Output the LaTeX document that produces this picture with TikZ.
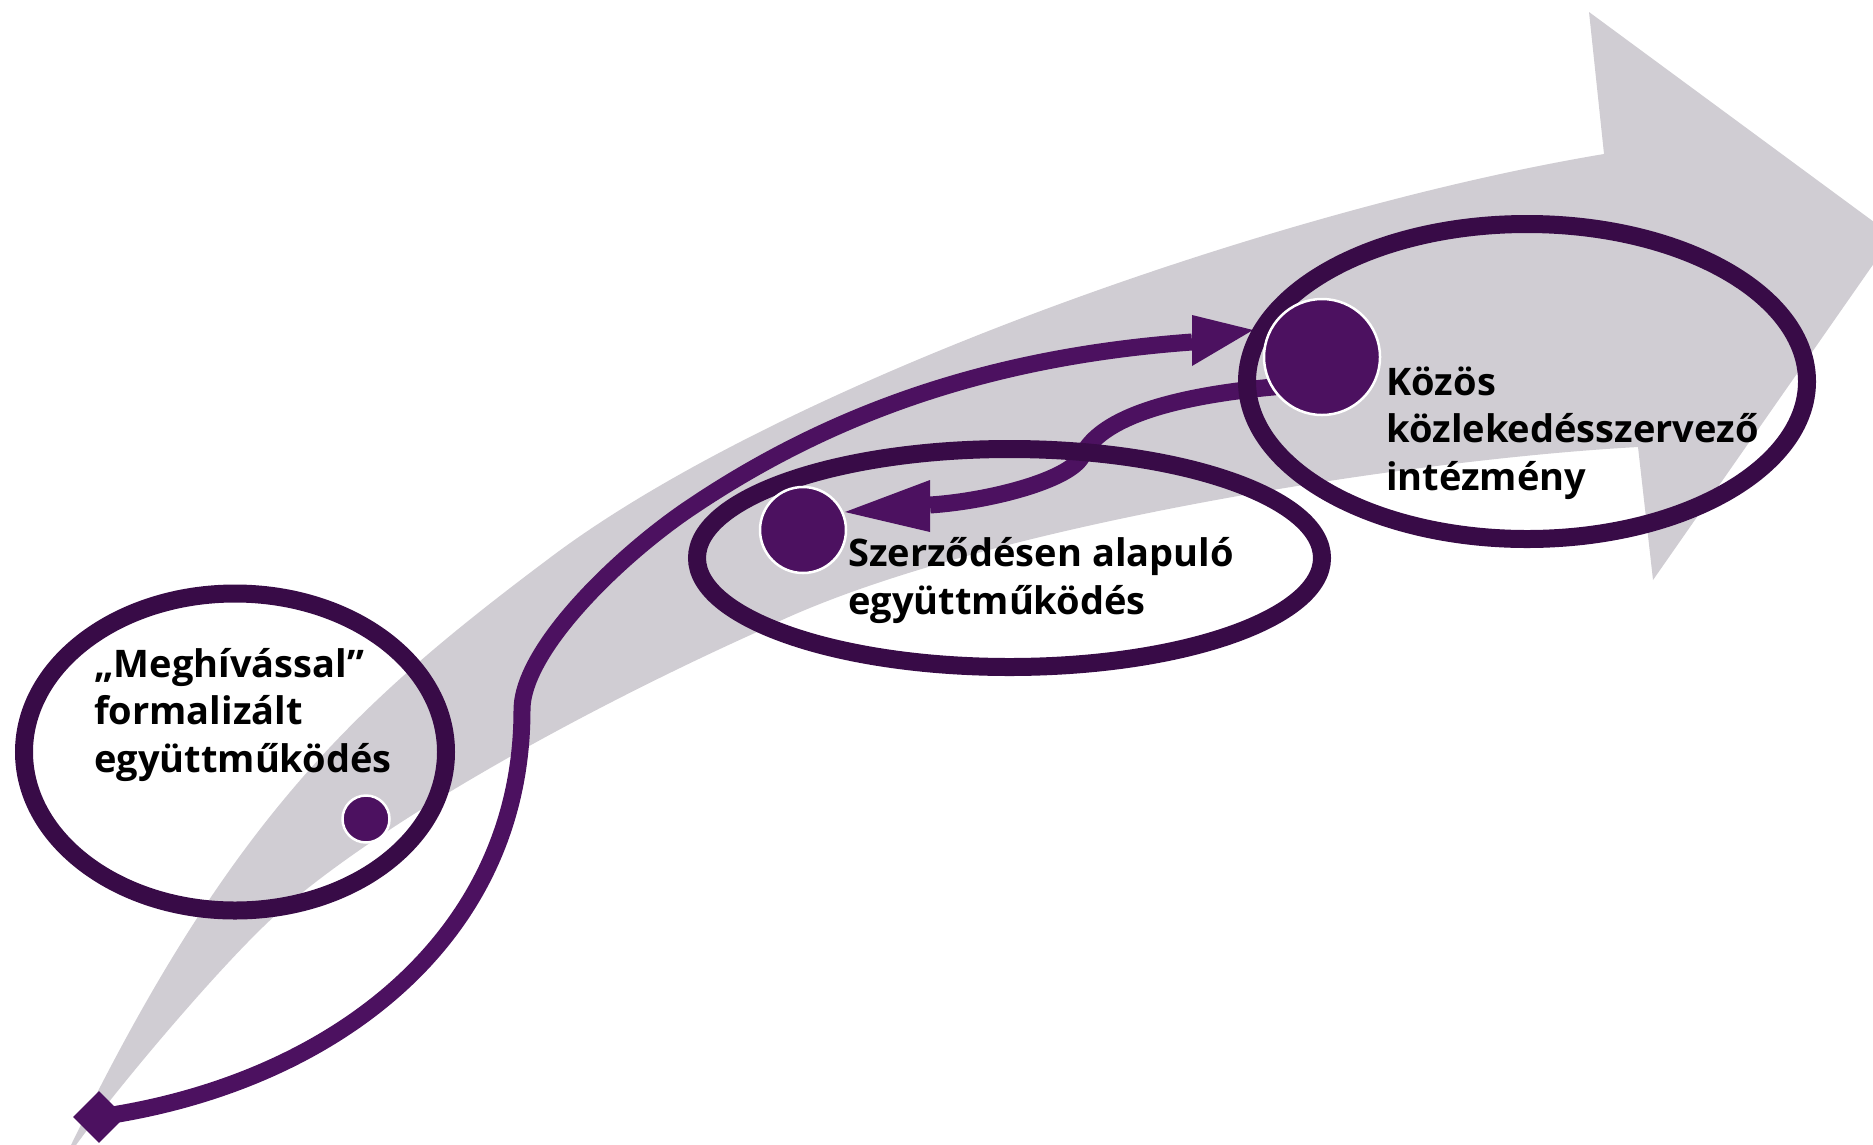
\documentclass[tikz,border=0pt]{standalone}
\usepackage{fontspec}
\setmainfont{Open Sans}
\usetikzlibrary{shapes.geometric}
\definecolor{band}{RGB}{208,205,211}
\definecolor{plum}{RGB}{76,17,96}
\definecolor{ringc}{RGB}{56,11,71}
\pgfdeclarelayer{back}
\pgfdeclarelayer{mid}
\pgfsetlayers{back,mid,main}
\begin{document}
\begin{tikzpicture}[x=1pt,y=-1pt,
  ring/.style={ellipse, draw=ringc, line width=18pt, inner sep=0pt},
  dot/.style={circle, fill=plum, draw=white, line width=2.5pt, inner sep=0pt},
  flow/.style={draw=plum, line width=17pt},
  tipfill/.style={fill=plum},
  lab/.style={font=\fontsize{38}{47.5}\selectfont\bfseries, align=left, anchor=base west, inner sep=0pt}]
\useasboundingbox (0,0) rectangle (1873,1144);
\clip (0,0) rectangle (1873,1144);
% rings
\node[ring, minimum width=625pt, minimum height=218pt] (e2) at (1009.5,558) {};
\node[ring, minimum width=560pt, minimum height=315pt] (e3) at (1527,381.5) {};
\node[ring, minimum width=422pt, minimum height=317pt] (e1) at (235,752) {};
% dots
\node[dot, minimum size=116pt] (cA) at (1322,357) {};
\node[dot, minimum size=86pt] (cB) at (803,530) {};
\node[dot, minimum size=47pt] (cC) at (366,819) {};
% start marker
\node[diamond, aspect=1, fill=plum, minimum size=52pt, inner sep=0pt] (dia) at (99,1117) {};
% labels (anchor = baseline of the last line)
\node[lab] (l1) at (94,772) {„Meghívással”\\formalizált\\együttműködés};
\node[lab] (l2) at (848,614) {Szerződésen alapuló\\együttműködés};
\node[lab] (l3) at (1386,490) {Közös\\közlekedésszervező\\intézmény};
% arrow tips
\coordinate (t1) at (1253,330);
\coordinate (t2) at (845,512);
\begin{pgfonlayer}{back}
\fill[band] (58,1172) .. controls (222,828) and (347,710) .. (547,560)
  .. controls (777,385) and (1274,209) .. (1604,154)
  -- (1589,12) -- (1893,236) -- (1653,580) -- (1638,447)
  .. controls (1400,460) and (957,530) .. (757,632)
  .. controls (597,704) and (388,816) .. (278,913)
  .. controls (218,966) and (83,1128) .. (58,1172) -- cycle;
\end{pgfonlayer}
\begin{pgfonlayer}{mid}
\draw[flow] (dia.center) .. controls (330,1084) and (522,940) .. (522,710)
  .. controls (522,650) and (617,558) .. (687,510)
  .. controls (837,408) and (1000,356) .. (1192,342);
\fill[tipfill] (1192,315) -- (t1) -- (1192,366) -- cycle;
\draw[flow] (cA.center) -- (1273,387) .. controls (1123,401) and (1092,436) .. (1082,456)
  .. controls (1070,480) and (990,501) .. (930,505);
\fill[tipfill] (930,480) -- (t2) -- (930,532) -- cycle;
\end{pgfonlayer}
\end{tikzpicture}
\end{document}
